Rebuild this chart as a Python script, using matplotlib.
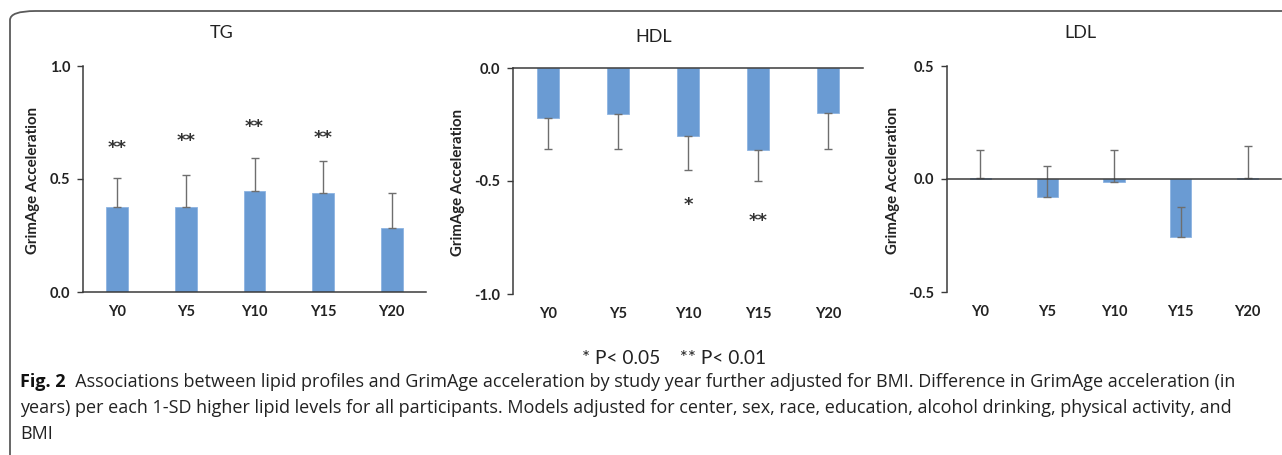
import matplotlib
matplotlib.use("Agg")
import matplotlib.pyplot as plt
from matplotlib.patches import FancyBboxPatch
import numpy as np

# ---------------- data ----------------
years = ["Y0", "Y5", "Y10", "Y15", "Y20"]

tg_values = [0.375, 0.375, 0.448, 0.437, 0.283]
tg_err = [0.131, 0.143, 0.146, 0.143, 0.157]          # drawn upward
tg_sig = ["**", "**", "**", "**", ""]
tg_sig_y = [0.636, 0.668, 0.731, 0.683, None]

hdl_values = [-0.221, -0.204, -0.301, -0.362, -0.198]
hdl_err = [0.139, 0.156, 0.150, 0.138, 0.162]         # drawn downward
hdl_sig = ["", "", "*", "**", ""]
hdl_sig_y = [None, None, -0.608, -0.679, None]

ldl_values = [0.006, -0.078, -0.012, -0.256, 0.006]
ldl_err = [0.124, 0.137, 0.142, 0.131, 0.141]         # drawn upward
ldl_sig = ["", "", "", "", ""]
ldl_sig_y = [None, None, None, None, None]

titles = ["TG", "HDL", "LDL"]
ylabel = "GrimAge Acceleration"
yticks_list = [[0.0, 0.5, 1.0], [-1.0, -0.5, 0.0], [-0.5, 0.0, 0.5]]
ylims = [(0.0, 1.0), (-1.0, 0.0), (-0.5, 0.5)]

legend_text = "* P< 0.05    ** P< 0.01"
cap_bold = "Fig. 2"
cap_line1 = "  Associations between lipid profiles and GrimAge acceleration by study year further adjusted for BMI. Difference in GrimAge acceleration (in"
cap_line2 = "years) per each 1-SD higher lipid levels for all participants. Models adjusted for center, sex, race, education, alcohol drinking, physical activity, and"
cap_line3 = "BMI"

# ---------------- style ----------------
W, H = 1282, 455
BAR = "#6A9BD3"
ERR = "#6E6E6E"
AX = "#3A3A3A"
CHART_FONT = "Lato"
CAP_FONT = "Open Sans"

fig = plt.figure(figsize=(W / 100, H / 100), dpi=100)

def px_axes(x0, x1, ytop, ybot):
    return fig.add_axes([x0 / W, 1 - ybot / H, (x1 - x0) / W, (ybot - ytop) / H])

axes_px = [(83, 426, 66, 292), (513, 863, 68, 294), (947, 1281, 66, 292)]
title_px = [(222, 33), (654, 37), (1080, 33)]
ylabel_px = [(33, 180), (458, 182), (893, 180)]

panels = [
    (tg_values, tg_err, "up", tg_sig, tg_sig_y),
    (hdl_values, hdl_err, "down", hdl_sig, hdl_sig_y),
    (ldl_values, ldl_err, "up", ldl_sig, ldl_sig_y),
]

for i, (vals, errs, direction, sig, sig_y) in enumerate(panels):
    ax = px_axes(*axes_px[i])
    x = np.arange(len(years))
    zeros = [0] * len(errs)
    yerr = [zeros, errs] if direction == "up" else [errs, zeros]
    ax.bar(x, vals, width=0.32, color=BAR, edgecolor="#8DB4E2", linewidth=0.6, zorder=2)
    ax.errorbar(x, vals, yerr=yerr, fmt="none", ecolor=ERR, elinewidth=1.0,
                capsize=2.8, capthick=1.0, zorder=3)
    for xi, s, sy in zip(x, sig, sig_y):
        if s:
            ax.text(xi, sy, s, ha="center", va="center", fontsize=13, fontweight="bold",
                    family="DejaVu Sans", color="#333333", zorder=4)
    ax.set_xlim(-0.5, len(years) - 0.5)
    ax.set_ylim(*ylims[i])
    ax.axhline(0, color=AX, linewidth=1.1, zorder=5, clip_on=False)
    for sp in ["top", "right", "bottom"]:
        ax.spines[sp].set_visible(False)
    ax.spines["left"].set_color(AX)
    ax.spines["left"].set_linewidth(1.1)
    ax.set_yticks(yticks_list[i])
    ax.set_yticklabels([f"{t:.1f}" for t in yticks_list[i]])
    ax.set_xticks(x)
    ax.set_xticklabels(years)
    ax.tick_params(axis="x", length=0, pad=9)
    ax.tick_params(axis="y", length=4, width=1.0, color=AX, pad=5)
    for lab in ax.get_xticklabels() + ax.get_yticklabels():
        lab.set_family(CHART_FONT)
        lab.set_fontweight("bold")
        lab.set_fontsize(10.5)
        lab.set_color("#222222")
    ax.patch.set_alpha(0)
    fig.text(title_px[i][0] / W, 1 - title_px[i][1] / H, titles[i], ha="center", va="center",
             fontsize=13, family=CHART_FONT, color="#222222")
    fig.text(ylabel_px[i][0] / W, 1 - ylabel_px[i][1] / H, ylabel, ha="center", va="center",
             rotation=90, fontsize=10.8, fontweight="bold", family=CHART_FONT, color="#222222")

# rounded frame (open on the right and bottom, as in the clipped reference)
frame = FancyBboxPatch((10 / W, -0.2), 1.3, (1 - 11 / H) + 0.2,
                       boxstyle="round,pad=0,rounding_size=0.02",
                       transform=fig.transFigure, fill=False, edgecolor="#5A5A5A",
                       linewidth=1.3, clip_on=False)
fig.add_artist(frame)

# caption
t_leg = fig.text(674.5 / W, 1 - 358 / H, legend_text, ha="center", va="center", fontsize=13,
                 family=CHART_FONT, color="#222222")
t_bold = fig.text(20 / W, 1 - 382 / H, cap_bold, ha="left", va="center", fontsize=11,
                  fontweight="bold", family=CAP_FONT, color="#111111")
t1 = fig.text(0, 1 - 382 / H, cap_line1, ha="left", va="center", fontsize=11,
              family=CAP_FONT, color="#222222")
t2 = fig.text(20 / W, 1 - 408 / H, cap_line2, ha="left", va="center", fontsize=11,
              family=CAP_FONT, color="#222222")
t3 = fig.text(20 / W, 1 - 434 / H, cap_line3, ha="left", va="center", fontsize=11,
              family=CAP_FONT, color="#222222")

fig.canvas.draw()
r = fig.canvas.get_renderer()
w2 = t2.get_window_extent(r).width
fs = 11 * (1243 - 20) / w2
for t in (t_bold, t1, t2, t3):
    t.set_fontsize(fs)
wl = t_leg.get_window_extent(r).width
t_leg.set_fontsize(13 * 183 / wl)
fig.canvas.draw()
bb = t_bold.get_window_extent(r)
t1.set_x(bb.x1 / W)

fig.savefig("out.png", dpi=100)
